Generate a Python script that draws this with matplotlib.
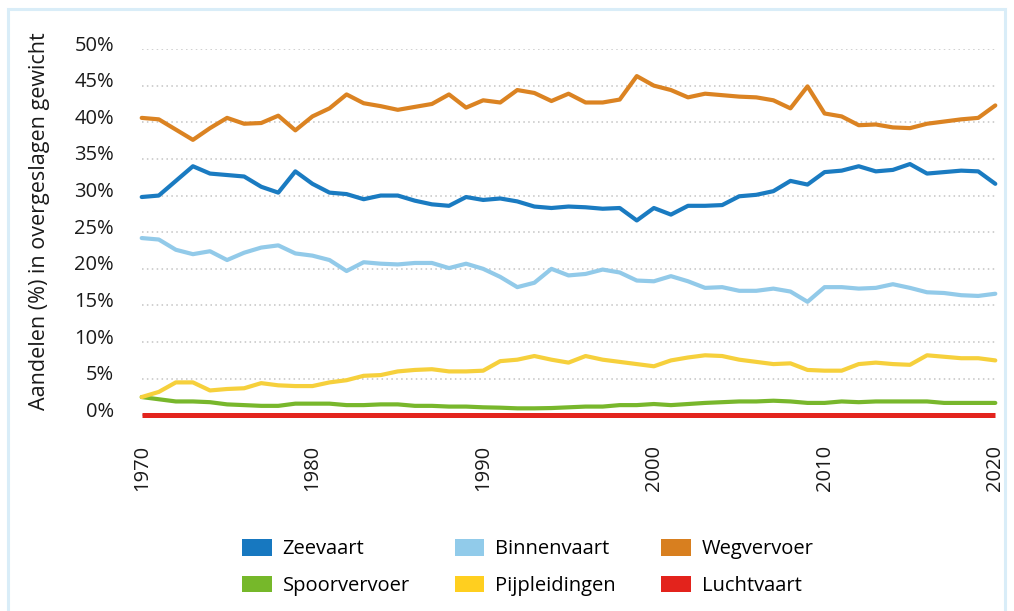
import matplotlib
matplotlib.use("Agg")
import matplotlib.pyplot as plt
import matplotlib.transforms as mtransforms
from matplotlib.patches import Patch, Rectangle

plt.rcParams['font.family'] = ['Open Sans', 'DejaVu Sans']

# ===== data (share % of transshipped weight) =====
years = list(range(1970, 2021))

zeevaart = [29.8, 30.0, 32.0, 34.0, 33.0, 32.8, 32.6, 31.2, 30.4, 33.3,
            31.6, 30.4, 30.2, 29.5, 30.0, 30.0, 29.3, 28.8, 28.6, 29.8,
            29.4, 29.6, 29.2, 28.5, 28.3, 28.5, 28.4, 28.2, 28.3, 26.6,
            28.3, 27.4, 28.6, 28.6, 28.7, 29.9, 30.1, 30.6, 32.0, 31.5,
            33.2, 33.4, 34.0, 33.3, 33.5, 34.3, 33.0, 33.2, 33.4, 33.3,
            31.6]

binnenvaart = [24.2, 24.0, 22.6, 22.0, 22.4, 21.2, 22.2, 22.9, 23.2, 22.1,
               21.8, 21.2, 19.7, 20.9, 20.7, 20.6, 20.8, 20.8, 20.1, 20.7,
               20.0, 18.9, 17.5, 18.1, 20.0, 19.1, 19.3, 19.9, 19.5, 18.4,
               18.3, 19.0, 18.3, 17.4, 17.5, 17.0, 17.0, 17.3, 16.9, 15.5,
               17.5, 17.5, 17.3, 17.4, 17.9, 17.4, 16.8, 16.7, 16.4, 16.3,
               16.6]

wegvervoer = [40.6, 40.4, 39.0, 37.6, 39.2, 40.6, 39.8, 39.9, 40.9, 38.9,
              40.8, 41.9, 43.8, 42.6, 42.2, 41.7, 42.1, 42.5, 43.8, 42.0,
              43.0, 42.7, 44.4, 44.0, 42.9, 43.9, 42.7, 42.7, 43.1, 46.3,
              45.0, 44.4, 43.4, 43.9, 43.7, 43.5, 43.4, 43.0, 41.9, 44.9,
              41.2, 40.8, 39.6, 39.7, 39.3, 39.2, 39.8, 40.1, 40.4, 40.6,
              42.3]

spoorvervoer = [2.5, 2.2, 1.9, 1.9, 1.8, 1.5, 1.4, 1.3, 1.3, 1.6,
                1.6, 1.6, 1.4, 1.4, 1.5, 1.5, 1.3, 1.3, 1.2, 1.2,
                1.1, 1.05, 0.96, 0.96, 1.0, 1.1, 1.2, 1.2, 1.4, 1.4,
                1.55, 1.4, 1.55, 1.7, 1.8, 1.9, 1.9, 2.0, 1.9, 1.7,
                1.7, 1.9, 1.8, 1.9, 1.9, 1.9, 1.9, 1.7, 1.7, 1.7,
                1.7]

pijpleidingen = [2.5, 3.2, 4.5, 4.5, 3.4, 3.6, 3.7, 4.4, 4.1, 4.0,
                 4.0, 4.5, 4.8, 5.4, 5.5, 6.0, 6.2, 6.3, 6.0, 6.0,
                 6.1, 7.4, 7.6, 8.1, 7.6, 7.2, 8.1, 7.6, 7.3, 7.0,
                 6.7, 7.5, 7.9, 8.2, 8.1, 7.6, 7.3, 7.0, 7.1, 6.2,
                 6.1, 6.1, 7.0, 7.2, 7.0, 6.9, 8.2, 8.0, 7.8, 7.8,
                 7.5]

luchtvaart = [0.0, 0.0, 0.0, 0.0, 0.0, 0.0, 0.0, 0.0, 0.0, 0.0,
              0.0, 0.0, 0.0, 0.0, 0.0, 0.0, 0.0, 0.0, 0.0, 0.0,
              0.0, 0.0, 0.0, 0.0, 0.0, 0.0, 0.0, 0.0, 0.0, 0.0,
              0.0, 0.0, 0.0, 0.0, 0.0, 0.0, 0.0, 0.0, 0.0, 0.0,
              0.0, 0.0, 0.0, 0.0, 0.0, 0.0, 0.0, 0.0, 0.0, 0.0,
              0.0]

names = ['Zeevaart', 'Binnenvaart', 'Wegvervoer',
         'Spoorvervoer', 'Pijpleidingen', 'Luchtvaart']
series = [zeevaart, binnenvaart, wegvervoer, spoorvervoer, pijpleidingen, luchtvaart]
colors = ['#1a7bc1', '#92cae9', '#db8322', '#78b72c', '#f6d03c', '#e3241e']
legend_colors = ['#1778c0', '#91cbea', '#d87f1f', '#76b82a', '#ffcf1f', '#e3231c']

yticks = [0, 5, 10, 15, 20, 25, 30, 35, 40, 45, 50]
xticks = [1970, 1980, 1990, 2000, 2010, 2020]

# ===== figure =====
fig = plt.figure(figsize=(10.14, 6.11), dpi=100)
ax = fig.add_axes([0.13975, 0.30818, 0.84181, 0.61162])

# light blue frame round the whole thing
fig.add_artist(Rectangle((8 / 1014, -0.05), (1005 - 8) / 1014, 1.05 - 9 / 611,
                         transform=fig.transFigure, fill=False,
                         edgecolor='#d9edf8', linewidth=2.2))

# draw lines, red first so the others sit on top
order = [5, 3, 4, 1, 0, 2]
for i in order:
    lw = 3.6 if i == 5 else 3.0
    ax.plot(years, series[i], color=colors[i], linewidth=lw,
            solid_capstyle='butt' if i == 5 else 'round',
            solid_joinstyle='round', clip_on=False, zorder=3)

ax.set_xlim(1970, 2020)
ax.set_ylim(-1, 50)
ax.set_yticks(yticks)
ax.set_yticklabels([str(v) + '%' for v in yticks])
ax.set_xticks(xticks)
ax.set_xticklabels([str(v) for v in xticks], rotation=90)
ax.tick_params(axis='y', length=0, pad=20, labelsize=14.5, labelcolor='#1a1a1a')
ax.tick_params(axis='x', length=0, pad=16, labelsize=14.5, labelcolor='#1a1a1a')

# y labels sit a bit above their gridline
shift = mtransforms.ScaledTranslation(0, 0.06, fig.dpi_scale_trans)
for lab in ax.get_yticklabels():
    lab.set_transform(lab.get_transform() + shift)

ax.grid(axis='y', color='#c4c4c4', linewidth=1.1, linestyle=(0, (1, 2.2)))
ax.grid(axis='x', visible=False)
for s in ax.spines.values():
    s.set_visible(False)

fig.text(40 / 1014, 1 - 221 / 611, 'Aandelen (%) in overgeslagen gewicht',
         rotation=90, ha='center', va='center', fontsize=15.5, color='#1a1a1a')

# legend is filled column by column, so order it to read row by row
leg_order = [0, 3, 1, 4, 2, 5]
handles = [Patch(facecolor=legend_colors[i], edgecolor='none') for i in leg_order]
labels = [names[i] for i in leg_order]
fig.legend(handles, labels, ncol=3, loc='center',
           bbox_to_anchor=(528 / 1014, 1 - 567.5 / 611), frameon=False, fontsize=14.5,
           handlelength=1.45, handleheight=0.85, handletextpad=0.55,
           columnspacing=2.25, labelspacing=0.8, borderpad=0)

plt.savefig("out.png", dpi=100)
